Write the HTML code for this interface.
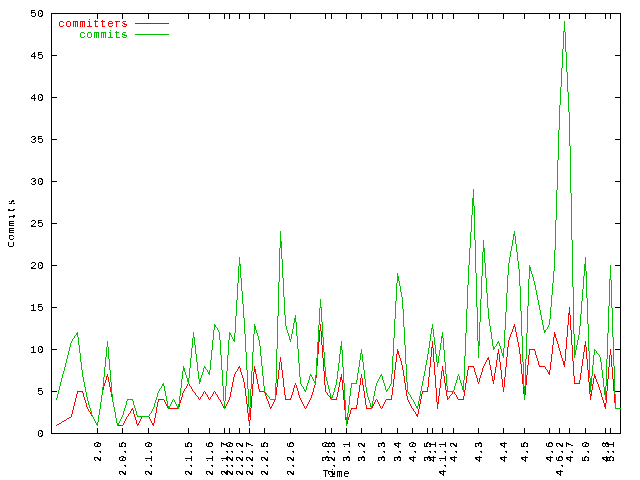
<!DOCTYPE html>
<html lang="en">
<head>
<meta charset="utf-8">
<title>Commits over time</title>
<style>
html,body{margin:0;padding:0;background:#fff;overflow:hidden}
body{width:640px;height:480px}
svg{display:block}
text{font-family:"Liberation Mono","DejaVu Sans Mono",monospace;font-size:10.6px;letter-spacing:0.64px;fill:#000}
.r{fill:#ff0000}
.g{fill:#00c000}
</style>
</head>
<body>
<svg width="640" height="480" viewBox="0 0 640 480">
<defs>
<filter id="px" filterUnits="userSpaceOnUse" x="0" y="0" width="640" height="480" color-interpolation-filters="sRGB">
<feComponentTransfer><feFuncA type="discrete" tableValues="0 0 1 1 1"/></feComponentTransfer>
</filter>
</defs>
<rect x="0" y="0" width="640" height="480" fill="#ffffff"/>
<g shape-rendering="crispEdges" fill="none" stroke-width="1">
<path stroke="#000000" d="M51.5 13.5H620.5V433.5H51.5Z M51 391.5H57 M615 391.5H621 M51 349.5H57 M615 349.5H621 M51 307.5H57 M615 307.5H621 M51 265.5H57 M615 265.5H621 M51 223.5H57 M615 223.5H621 M51 181.5H57 M615 181.5H621 M51 139.5H57 M615 139.5H621 M51 97.5H57 M615 97.5H621 M51 55.5H57 M615 55.5H621 M97.5 428V434 M97.5 13V19 M122.5 428V434 M122.5 13V19 M148.5 428V434 M148.5 13V19 M188.5 428V434 M188.5 13V19 M209.5 428V434 M209.5 13V19 M224.5 428V434 M224.5 13V19 M229.5 428V434 M229.5 13V19 M239.5 428V434 M239.5 13V19 M249.5 428V434 M249.5 13V19 M264.5 428V434 M264.5 13V19 M290.5 428V434 M290.5 13V19 M325.5 428V434 M325.5 13V19 M331.5 428V434 M331.5 13V19 M346.5 428V434 M346.5 13V19 M361.5 428V434 M361.5 13V19 M381.5 428V434 M381.5 13V19 M397.5 428V434 M397.5 13V19 M412.5 428V434 M412.5 13V19 M427.5 428V434 M427.5 13V19 M432.5 428V434 M432.5 13V19 M442.5 428V434 M442.5 13V19 M453.5 428V434 M453.5 13V19 M478.5 428V434 M478.5 13V19 M503.5 428V434 M503.5 13V19 M524.5 428V434 M524.5 13V19 M549.5 428V434 M549.5 13V19 M559.5 428V434 M559.5 13V19 M569.5 428V434 M569.5 13V19 M585.5 428V434 M585.5 13V19 M605.5 428V434 M605.5 13V19 M610.5 428V434 M610.5 13V19"/>
<path stroke="none" fill="#ff0000" d="M71 414h1v3h-1zM72 410h1v4h-1zM73 406h1v4h-1zM74 402h1v4h-1zM75 398h1v4h-1zM76 394h1v4h-1zM77 391h1v3h-1zM82 391h1v2h-1zM83 393h1v4h-1zM84 397h1v3h-1zM85 400h1v3h-1zM86 403h1v4h-1zM87 407h1v2h-1zM88 409h1v2h-1zM90 412h1v2h-1zM91 414h1v2h-1zM93 417h1v2h-1zM94 419h1v2h-1zM95 421h1v2h-1zM96 423h1v2h-1zM97 422h1v4h-1zM98 415h1v7h-1zM99 409h1v6h-1zM100 402h1v7h-1zM101 395h1v7h-1zM102 390h1v5h-1zM103 386h1v4h-1zM104 383h1v3h-1zM105 380h1v3h-1zM106 376h1v4h-1zM107 374h1v3h-1zM108 377h1v5h-1zM109 382h1v5h-1zM110 387h1v5h-1zM111 392h1v5h-1zM112 397h1v5h-1zM113 402h1v5h-1zM114 407h1v5h-1zM115 412h1v6h-1zM116 418h1v5h-1zM117 423h1v3h-1zM123 423h1v2h-1zM124 421h1v2h-1zM125 419h1v2h-1zM126 417h1v2h-1zM128 414h1v2h-1zM130 411h1v2h-1zM131 409h1v2h-1zM132 408h1v2h-1zM133 410h1v4h-1zM134 414h1v3h-1zM135 417h1v3h-1zM136 420h1v4h-1zM137 424h1v2h-1zM138 423h1v2h-1zM139 421h1v2h-1zM140 419h1v2h-1zM141 417h1v2h-1zM149 417h1v2h-1zM150 419h1v2h-1zM151 421h1v2h-1zM152 423h1v2h-1zM153 423h1v3h-1zM154 418h1v5h-1zM155 413h1v5h-1zM156 407h1v6h-1zM157 402h1v5h-1zM158 399h1v3h-1zM164 400h1v2h-1zM165 402h1v2h-1zM166 404h1v2h-1zM167 406h1v2h-1zM178 407h1v2h-1zM179 403h1v4h-1zM180 400h1v3h-1zM181 397h1v3h-1zM182 393h1v4h-1zM183 391h1v2h-1zM184 389h1v2h-1zM186 386h1v2h-1zM187 384h1v2h-1zM189 384h1v2h-1zM191 387h1v2h-1zM192 389h1v2h-1zM195 393h1v2h-1zM198 397h1v2h-1zM200 397h1v2h-1zM202 394h1v2h-1zM203 392h1v2h-1zM205 392h1v2h-1zM207 395h1v2h-1zM208 397h1v2h-1zM210 397h1v2h-1zM212 394h1v2h-1zM213 392h1v2h-1zM215 392h1v2h-1zM217 395h1v2h-1zM218 397h1v2h-1zM220 400h1v2h-1zM221 402h1v2h-1zM222 404h1v2h-1zM223 406h1v2h-1zM225 406h1v2h-1zM226 404h1v2h-1zM227 402h1v2h-1zM228 400h1v2h-1zM229 397h1v3h-1zM230 392h1v5h-1zM231 387h1v5h-1zM232 382h1v5h-1zM233 377h1v5h-1zM234 374h1v3h-1zM235 372h1v2h-1zM237 369h1v2h-1zM238 367h1v2h-1zM239 366h1v2h-1zM240 368h1v4h-1zM241 372h1v3h-1zM242 375h1v3h-1zM243 378h1v4h-1zM244 382h1v6h-1zM245 388h1v8h-1zM246 396h1v8h-1zM247 404h1v9h-1zM248 413h1v8h-1zM249 420h1v6h-1zM250 408h1v12h-1zM251 396h1v12h-1zM252 384h1v12h-1zM253 372h1v12h-1zM254 366h1v6h-1zM255 369h1v5h-1zM256 374h1v5h-1zM257 379h1v5h-1zM258 384h1v5h-1zM259 389h1v3h-1zM264 391h1v2h-1zM265 393h1v3h-1zM266 396h1v3h-1zM267 399h1v2h-1zM268 401h1v3h-1zM269 404h1v3h-1zM270 407h1v2h-1zM271 406h1v2h-1zM272 404h1v2h-1zM273 402h1v2h-1zM274 400h1v2h-1zM275 395h1v5h-1zM276 387h1v8h-1zM277 379h1v8h-1zM278 370h1v9h-1zM279 362h1v8h-1zM280 357h1v5h-1zM281 362h1v8h-1zM282 370h1v8h-1zM283 378h1v9h-1zM284 387h1v8h-1zM285 395h1v5h-1zM290 398h1v2h-1zM291 395h1v3h-1zM292 392h1v3h-1zM293 388h1v4h-1zM294 385h1v3h-1zM295 383h1v2h-1zM296 385h1v3h-1zM297 388h1v3h-1zM298 391h1v4h-1zM299 395h1v3h-1zM300 398h1v2h-1zM301 400h1v2h-1zM302 402h1v2h-1zM303 404h1v2h-1zM304 406h1v2h-1zM306 406h1v2h-1zM307 404h1v2h-1zM308 402h1v2h-1zM309 400h1v2h-1zM310 398h1v2h-1zM311 395h1v3h-1zM312 392h1v3h-1zM313 388h1v4h-1zM314 385h1v3h-1zM315 378h1v7h-1zM316 366h1v12h-1zM317 354h1v12h-1zM318 342h1v12h-1zM319 330h1v12h-1zM320 324h1v7h-1zM321 331h1v14h-1zM322 345h1v13h-1zM323 358h1v13h-1zM324 371h1v14h-1zM325 385h1v7h-1zM327 393h1v2h-1zM330 397h1v2h-1zM336 397h1v3h-1zM337 392h1v5h-1zM338 387h1v5h-1zM339 382h1v5h-1zM340 377h1v5h-1zM341 374h1v6h-1zM342 380h1v10h-1zM343 390h1v10h-1zM344 400h1v10h-1zM345 410h1v10h-1zM346 420h1v6h-1zM347 420h1v4h-1zM348 417h1v3h-1zM349 414h1v3h-1zM350 410h1v4h-1zM351 408h1v2h-1zM356 405h1v4h-1zM357 398h1v7h-1zM358 392h1v6h-1zM359 385h1v7h-1zM360 378h1v7h-1zM361 374h1v4h-1zM362 378h1v7h-1zM363 385h1v6h-1zM364 391h1v7h-1zM365 398h1v7h-1zM366 405h1v4h-1zM372 406h1v2h-1zM373 404h1v2h-1zM374 402h1v2h-1zM375 400h1v2h-1zM377 400h1v2h-1zM378 402h1v2h-1zM379 404h1v2h-1zM380 406h1v2h-1zM382 406h1v2h-1zM383 404h1v2h-1zM384 402h1v2h-1zM385 400h1v2h-1zM391 395h1v5h-1zM392 387h1v8h-1zM393 379h1v8h-1zM394 370h1v9h-1zM395 362h1v8h-1zM396 354h1v8h-1zM397 349h1v5h-1zM398 351h1v4h-1zM399 355h1v3h-1zM400 358h1v3h-1zM401 361h1v4h-1zM402 365h1v5h-1zM403 370h1v6h-1zM404 376h1v7h-1zM405 383h1v7h-1zM406 390h1v6h-1zM407 396h1v4h-1zM408 400h1v2h-1zM409 402h1v2h-1zM410 404h1v2h-1zM411 406h1v2h-1zM413 409h1v2h-1zM415 412h1v2h-1zM416 414h1v2h-1zM417 414h1v3h-1zM418 409h1v5h-1zM419 404h1v5h-1zM420 399h1v5h-1zM421 394h1v5h-1zM422 391h1v3h-1zM427 387h1v5h-1zM428 377h1v10h-1zM429 367h1v10h-1zM430 357h1v10h-1zM431 347h1v10h-1zM432 341h1v7h-1zM433 348h1v14h-1zM434 362h1v13h-1zM435 375h1v13h-1zM436 388h1v14h-1zM437 402h1v7h-1zM438 396h1v8h-1zM439 388h1v8h-1zM440 379h1v9h-1zM441 371h1v8h-1zM442 366h1v5h-1zM443 370h1v6h-1zM444 376h1v7h-1zM445 383h1v7h-1zM446 390h1v6h-1zM447 396h1v4h-1zM449 396h1v2h-1zM452 392h1v2h-1zM454 392h1v2h-1zM456 395h1v2h-1zM457 397h1v2h-1zM463 396h1v4h-1zM464 390h1v6h-1zM465 383h1v7h-1zM466 376h1v7h-1zM467 370h1v6h-1zM468 366h1v4h-1zM473 366h1v2h-1zM474 368h1v4h-1zM475 372h1v3h-1zM476 375h1v3h-1zM477 378h1v4h-1zM478 382h1v2h-1zM479 378h1v4h-1zM480 375h1v3h-1zM481 372h1v3h-1zM482 368h1v4h-1zM483 366h1v2h-1zM484 364h1v2h-1zM485 362h1v2h-1zM486 360h1v2h-1zM487 358h1v2h-1zM488 357h1v3h-1zM489 360h1v5h-1zM490 365h1v5h-1zM491 370h1v6h-1zM492 376h1v5h-1zM493 380h1v4h-1zM494 373h1v7h-1zM495 367h1v6h-1zM496 360h1v7h-1zM497 353h1v7h-1zM498 349h1v5h-1zM499 354h1v8h-1zM500 362h1v8h-1zM501 370h1v9h-1zM502 379h1v8h-1zM503 387h1v5h-1zM504 377h1v10h-1zM505 367h1v10h-1zM506 357h1v10h-1zM507 347h1v10h-1zM508 340h1v7h-1zM509 337h1v3h-1zM510 334h1v3h-1zM511 332h1v2h-1zM512 329h1v3h-1zM513 326h1v3h-1zM514 324h1v3h-1zM515 327h1v5h-1zM516 332h1v5h-1zM517 337h1v5h-1zM518 342h1v5h-1zM519 347h1v7h-1zM520 354h1v10h-1zM521 364h1v10h-1zM522 374h1v10h-1zM523 384h1v10h-1zM524 394h1v6h-1zM525 385h1v10h-1zM526 375h1v10h-1zM527 365h1v10h-1zM528 355h1v10h-1zM529 349h1v6h-1zM534 349h1v2h-1zM535 351h1v4h-1zM536 355h1v3h-1zM537 358h1v3h-1zM538 361h1v4h-1zM539 365h1v2h-1zM545 367h1v2h-1zM547 370h1v2h-1zM548 372h1v2h-1zM549 370h1v5h-1zM550 362h1v8h-1zM551 354h1v8h-1zM552 345h1v9h-1zM553 337h1v8h-1zM554 332h1v5h-1zM555 334h1v4h-1zM556 338h1v3h-1zM557 341h1v3h-1zM558 344h1v4h-1zM559 348h1v3h-1zM560 351h1v4h-1zM561 355h1v3h-1zM562 358h1v3h-1zM563 361h1v4h-1zM564 361h1v6h-1zM565 349h1v12h-1zM566 337h1v12h-1zM567 325h1v12h-1zM568 313h1v12h-1zM569 307h1v8h-1zM570 315h1v15h-1zM571 330h1v15h-1zM572 345h1v16h-1zM573 361h1v15h-1zM574 376h1v8h-1zM579 380h1v4h-1zM580 373h1v7h-1zM581 366h1v7h-1zM582 359h1v7h-1zM583 352h1v7h-1zM584 345h1v7h-1zM585 341h1v6h-1zM586 347h1v12h-1zM587 359h1v11h-1zM588 370h1v12h-1zM589 382h1v12h-1zM590 394h1v6h-1zM591 390h1v6h-1zM592 384h1v6h-1zM593 378h1v6h-1zM594 374h1v4h-1zM595 376h1v3h-1zM596 379h1v3h-1zM597 382h1v2h-1zM598 384h1v3h-1zM599 387h1v3h-1zM600 390h1v3h-1zM601 393h1v4h-1zM602 397h1v3h-1zM603 400h1v3h-1zM604 403h1v4h-1zM605 403h1v6h-1zM606 391h1v12h-1zM607 379h1v12h-1zM608 367h1v12h-1zM609 355h1v12h-1zM610 349h1v6h-1zM611 355h1v12h-1zM612 367h1v12h-1zM613 379h1v12h-1zM614 391h1v12h-1zM615 403h1v6h-1zM530 349h4v1h-4zM469 366h4v1h-4zM540 366h5v1h-5zM546 369h1v1h-1zM236 371h1v1h-1zM188 383h1v1h-1zM575 383h4v1h-4zM190 386h1v1h-1zM185 388h1v1h-1zM78 391h4v1h-4zM193 391h1v1h-1zM204 391h1v1h-1zM214 391h1v1h-1zM260 391h4v1h-4zM423 391h4v1h-4zM453 391h1v1h-1zM194 392h1v1h-1zM326 392h1v1h-1zM206 394h1v1h-1zM216 394h1v1h-1zM451 394h1v1h-1zM455 394h1v1h-1zM196 395h1v1h-1zM328 395h1v1h-1zM450 395h1v1h-1zM197 396h1v1h-1zM201 396h1v1h-1zM211 396h1v1h-1zM329 396h1v1h-1zM448 398h1v1h-1zM159 399h5v1h-5zM199 399h1v1h-1zM209 399h1v1h-1zM219 399h1v1h-1zM286 399h4v1h-4zM331 399h5v1h-5zM376 399h1v1h-1zM386 399h5v1h-5zM458 399h5v1h-5zM168 408h10v1h-10zM224 408h1v1h-1zM305 408h1v1h-1zM352 408h4v1h-4zM367 408h5v1h-5zM381 408h1v1h-1zM412 408h1v1h-1zM616 408h5v1h-5zM89 411h1v1h-1zM414 411h1v1h-1zM129 413h1v1h-1zM92 416h1v1h-1zM127 416h1v1h-1zM142 416h7v1h-7zM69 417h2v1h-2zM67 418h2v1h-2zM66 419h1v1h-1zM64 420h2v1h-2zM62 421h2v1h-2zM61 422h1v1h-1zM59 423h2v1h-2zM57 424h2v1h-2zM56 425h1v1h-1zM118 425h5v1h-5z"/>
<path stroke="none" fill="#00c000" d="M56 398h1v2h-1zM57 394h1v4h-1zM58 390h1v4h-1zM59 386h1v4h-1zM60 382h1v4h-1zM61 378h1v4h-1zM62 374h1v4h-1zM63 371h1v3h-1zM64 367h1v4h-1zM65 363h1v4h-1zM66 359h1v4h-1zM67 355h1v4h-1zM68 351h1v4h-1zM69 347h1v4h-1zM70 343h1v4h-1zM71 341h1v2h-1zM72 339h1v2h-1zM74 336h1v2h-1zM76 333h1v2h-1zM77 332h1v5h-1zM78 337h1v8h-1zM79 345h1v8h-1zM80 353h1v9h-1zM81 362h1v8h-1zM82 370h1v7h-1zM83 377h1v5h-1zM84 382h1v5h-1zM85 387h1v5h-1zM86 392h1v5h-1zM87 397h1v4h-1zM88 401h1v4h-1zM89 405h1v3h-1zM90 408h1v3h-1zM91 411h1v4h-1zM92 415h1v2h-1zM93 417h1v2h-1zM94 419h1v2h-1zM95 421h1v2h-1zM96 423h1v2h-1zM97 422h1v4h-1zM98 415h1v7h-1zM99 409h1v6h-1zM100 402h1v7h-1zM101 395h1v7h-1zM102 387h1v8h-1zM103 377h1v10h-1zM104 367h1v10h-1zM105 357h1v10h-1zM106 347h1v10h-1zM107 341h1v6h-1zM108 347h1v12h-1zM109 359h1v11h-1zM110 370h1v12h-1zM111 382h1v12h-1zM112 394h1v8h-1zM113 402h1v5h-1zM114 407h1v5h-1zM115 412h1v6h-1zM116 418h1v5h-1zM117 423h1v3h-1zM118 423h1v2h-1zM119 421h1v2h-1zM120 419h1v2h-1zM121 417h1v2h-1zM122 415h1v2h-1zM123 411h1v4h-1zM124 408h1v3h-1zM125 405h1v3h-1zM126 401h1v4h-1zM127 399h1v2h-1zM132 399h1v2h-1zM133 401h1v4h-1zM134 405h1v3h-1zM135 408h1v3h-1zM136 411h1v4h-1zM137 415h1v2h-1zM149 414h1v2h-1zM151 411h1v2h-1zM152 409h1v2h-1zM153 407h1v2h-1zM154 403h1v4h-1zM155 400h1v3h-1zM156 397h1v3h-1zM157 393h1v4h-1zM158 391h1v2h-1zM159 389h1v2h-1zM161 386h1v2h-1zM162 384h1v2h-1zM163 383h1v3h-1zM164 386h1v5h-1zM165 391h1v5h-1zM166 396h1v5h-1zM167 401h1v5h-1zM168 406h1v3h-1zM169 406h1v2h-1zM170 404h1v2h-1zM171 402h1v2h-1zM172 400h1v2h-1zM174 400h1v2h-1zM175 402h1v2h-1zM176 404h1v2h-1zM177 406h1v2h-1zM178 404h1v5h-1zM179 396h1v8h-1zM180 388h1v8h-1zM181 379h1v9h-1zM182 371h1v8h-1zM183 366h1v5h-1zM184 368h1v4h-1zM185 372h1v3h-1zM186 375h1v3h-1zM187 378h1v4h-1zM188 378h1v6h-1zM189 368h1v10h-1zM190 358h1v10h-1zM191 348h1v10h-1zM192 338h1v10h-1zM193 332h1v6h-1zM194 337h1v8h-1zM195 345h1v9h-1zM196 354h1v8h-1zM197 362h1v9h-1zM198 371h1v8h-1zM199 379h1v5h-1zM200 378h1v4h-1zM201 375h1v3h-1zM202 372h1v3h-1zM203 368h1v4h-1zM204 366h1v2h-1zM205 367h1v2h-1zM207 370h1v2h-1zM208 372h1v2h-1zM209 370h1v5h-1zM210 360h1v10h-1zM211 350h1v10h-1zM212 340h1v10h-1zM213 330h1v10h-1zM214 324h1v6h-1zM215 325h1v2h-1zM217 328h1v2h-1zM218 330h1v2h-1zM219 332h1v8h-1zM220 340h1v15h-1zM221 355h1v15h-1zM222 370h1v16h-1zM223 386h1v15h-1zM224 401h1v8h-1zM225 386h1v15h-1zM226 371h1v15h-1zM227 355h1v16h-1zM228 340h1v15h-1zM229 332h1v8h-1zM230 333h1v2h-1zM231 335h1v2h-1zM232 337h1v2h-1zM233 339h1v2h-1zM234 333h1v9h-1zM235 316h1v17h-1zM236 300h1v16h-1zM237 283h1v17h-1zM238 266h1v17h-1zM239 257h1v9h-1zM240 264h1v14h-1zM241 278h1v13h-1zM242 291h1v13h-1zM243 304h1v14h-1zM244 318h1v16h-1zM245 334h1v18h-1zM246 352h1v18h-1zM247 370h1v19h-1zM248 389h1v18h-1zM249 407h1v10h-1zM250 389h1v18h-1zM251 371h1v18h-1zM252 352h1v19h-1zM253 334h1v18h-1zM254 324h1v10h-1zM255 326h1v4h-1zM256 330h1v3h-1zM257 333h1v3h-1zM258 336h1v4h-1zM259 340h1v6h-1zM260 346h1v10h-1zM261 356h1v10h-1zM262 366h1v10h-1zM263 376h1v10h-1zM264 386h1v6h-1zM266 393h1v2h-1zM269 397h1v2h-1zM275 383h1v17h-1zM276 349h1v34h-1zM277 316h1v33h-1zM278 282h1v34h-1zM279 248h1v34h-1zM280 231h1v17h-1zM281 241h1v18h-1zM282 259h1v19h-1zM283 278h1v19h-1zM284 297h1v18h-1zM285 315h1v11h-1zM286 326h1v4h-1zM287 330h1v3h-1zM288 333h1v3h-1zM289 336h1v4h-1zM290 339h1v3h-1zM291 334h1v5h-1zM292 329h1v5h-1zM293 323h1v6h-1zM294 318h1v5h-1zM295 315h1v7h-1zM296 322h1v14h-1zM297 336h1v13h-1zM298 349h1v14h-1zM299 363h1v14h-1zM300 377h1v7h-1zM301 384h1v2h-1zM303 387h1v2h-1zM304 389h1v2h-1zM305 390h1v2h-1zM306 386h1v4h-1zM307 383h1v3h-1zM308 380h1v3h-1zM309 376h1v4h-1zM310 374h1v2h-1zM311 375h1v2h-1zM312 377h1v2h-1zM313 379h1v2h-1zM314 381h1v2h-1zM315 375h1v9h-1zM316 358h1v17h-1zM317 342h1v16h-1zM318 325h1v17h-1zM319 308h1v17h-1zM320 299h1v9h-1zM321 307h1v15h-1zM322 322h1v15h-1zM323 337h1v15h-1zM324 352h1v15h-1zM325 367h1v10h-1zM326 377h1v4h-1zM327 381h1v4h-1zM328 385h1v4h-1zM329 389h1v4h-1zM330 393h1v4h-1zM331 397h1v3h-1zM332 395h1v3h-1zM333 392h1v3h-1zM334 388h1v4h-1zM335 385h1v3h-1zM336 379h1v6h-1zM337 371h1v8h-1zM338 363h1v8h-1zM339 354h1v9h-1zM340 346h1v8h-1zM341 341h1v9h-1zM342 350h1v17h-1zM343 367h1v16h-1zM344 383h1v17h-1zM345 400h1v17h-1zM346 417h1v9h-1zM347 413h1v8h-1zM348 405h1v8h-1zM349 396h1v9h-1zM350 388h1v8h-1zM351 383h1v5h-1zM356 380h1v4h-1zM357 373h1v7h-1zM358 367h1v6h-1zM359 360h1v7h-1zM360 353h1v7h-1zM361 349h1v5h-1zM362 354h1v8h-1zM363 362h1v8h-1zM364 370h1v9h-1zM365 379h1v8h-1zM366 387h1v6h-1zM367 393h1v4h-1zM368 397h1v3h-1zM369 400h1v3h-1zM370 403h1v4h-1zM371 406h1v3h-1zM372 401h1v5h-1zM373 396h1v5h-1zM374 391h1v5h-1zM375 386h1v5h-1zM376 383h1v3h-1zM377 381h1v2h-1zM378 379h1v2h-1zM379 377h1v2h-1zM380 375h1v2h-1zM381 374h1v2h-1zM382 376h1v4h-1zM383 380h1v3h-1zM384 383h1v3h-1zM385 386h1v4h-1zM386 390h1v2h-1zM387 389h1v2h-1zM389 386h1v2h-1zM390 384h1v2h-1zM391 374h1v10h-1zM392 356h1v18h-1zM393 338h1v18h-1zM394 319h1v19h-1zM395 301h1v18h-1zM396 283h1v18h-1zM397 273h1v10h-1zM398 276h1v5h-1zM399 281h1v5h-1zM400 286h1v6h-1zM401 292h1v5h-1zM402 297h1v12h-1zM403 309h1v18h-1zM404 327h1v18h-1zM405 345h1v19h-1zM406 364h1v18h-1zM407 382h1v10h-1zM408 392h1v2h-1zM410 395h1v2h-1zM411 397h1v2h-1zM413 400h1v2h-1zM414 402h1v2h-1zM415 404h1v2h-1zM416 406h1v2h-1zM417 406h1v3h-1zM418 401h1v5h-1zM419 396h1v5h-1zM420 391h1v5h-1zM421 386h1v5h-1zM422 381h1v5h-1zM423 376h1v5h-1zM424 371h1v5h-1zM425 365h1v6h-1zM426 360h1v5h-1zM427 354h1v6h-1zM428 348h1v6h-1zM429 341h1v7h-1zM430 334h1v7h-1zM431 328h1v6h-1zM432 324h1v5h-1zM433 329h1v8h-1zM434 337h1v8h-1zM435 345h1v9h-1zM436 354h1v8h-1zM437 362h1v5h-1zM438 356h1v7h-1zM439 350h1v6h-1zM440 343h1v7h-1zM441 336h1v7h-1zM442 332h1v6h-1zM443 338h1v12h-1zM444 350h1v12h-1zM445 362h1v12h-1zM446 374h1v12h-1zM447 386h1v6h-1zM453 390h1v2h-1zM454 386h1v4h-1zM455 383h1v3h-1zM456 380h1v3h-1zM457 376h1v4h-1zM458 374h1v2h-1zM459 376h1v4h-1zM460 380h1v3h-1zM461 383h1v3h-1zM462 386h1v4h-1zM463 380h1v12h-1zM464 356h1v24h-1zM465 333h1v23h-1zM466 309h1v24h-1zM467 285h1v24h-1zM468 265h1v20h-1zM469 248h1v17h-1zM470 232h1v16h-1zM471 215h1v17h-1zM472 198h1v17h-1zM473 189h1v17h-1zM474 206h1v34h-1zM475 240h1v33h-1zM476 273h1v34h-1zM477 307h1v34h-1zM478 341h1v17h-1zM479 322h1v24h-1zM480 299h1v23h-1zM481 276h1v23h-1zM482 252h1v24h-1zM483 240h1v12h-1zM484 248h1v15h-1zM485 263h1v15h-1zM486 278h1v15h-1zM487 293h1v15h-1zM488 308h1v11h-1zM489 319h1v7h-1zM490 326h1v6h-1zM491 332h1v7h-1zM492 339h1v7h-1zM493 346h1v4h-1zM494 347h1v2h-1zM496 344h1v2h-1zM497 342h1v2h-1zM498 341h1v2h-1zM499 343h1v3h-1zM500 346h1v3h-1zM501 349h1v4h-1zM502 353h1v3h-1zM503 348h1v10h-1zM504 330h1v18h-1zM505 312h1v18h-1zM506 293h1v19h-1zM507 275h1v18h-1zM508 263h1v12h-1zM509 257h1v6h-1zM510 251h1v6h-1zM511 246h1v5h-1zM512 240h1v6h-1zM513 234h1v6h-1zM514 231h1v5h-1zM515 236h1v8h-1zM516 244h1v8h-1zM517 252h1v9h-1zM518 261h1v8h-1zM519 269h1v17h-1zM520 286h1v25h-1zM521 311h1v25h-1zM522 336h1v26h-1zM523 362h1v25h-1zM524 386h1v14h-1zM525 359h1v27h-1zM526 333h1v26h-1zM527 306h1v27h-1zM528 279h1v27h-1zM529 265h1v14h-1zM530 267h1v4h-1zM531 271h1v3h-1zM532 274h1v3h-1zM533 277h1v4h-1zM534 281h1v4h-1zM535 285h1v5h-1zM536 290h1v5h-1zM537 295h1v5h-1zM538 300h1v5h-1zM539 305h1v5h-1zM540 310h1v5h-1zM541 315h1v5h-1zM542 320h1v5h-1zM543 325h1v5h-1zM544 330h1v3h-1zM545 330h1v2h-1zM547 327h1v2h-1zM548 325h1v2h-1zM549 319h1v6h-1zM550 307h1v12h-1zM551 295h1v12h-1zM552 283h1v12h-1zM553 271h1v12h-1zM554 250h1v21h-1zM555 220h1v30h-1zM556 190h1v30h-1zM557 160h1v30h-1zM558 130h1v30h-1zM559 105h1v25h-1zM560 87h1v18h-1zM561 68h1v19h-1zM562 49h1v19h-1zM563 31h1v18h-1zM564 21h1v11h-1zM565 32h1v20h-1zM566 52h1v20h-1zM567 72h1v20h-1zM568 92h1v20h-1zM569 112h1v34h-1zM570 146h1v47h-1zM571 193h1v47h-1zM572 240h1v47h-1zM573 287h1v47h-1zM574 334h1v24h-1zM575 350h1v5h-1zM576 345h1v5h-1zM577 340h1v5h-1zM578 335h1v5h-1zM579 326h1v9h-1zM580 314h1v12h-1zM581 301h1v13h-1zM582 289h1v12h-1zM583 276h1v13h-1zM584 264h1v12h-1zM585 257h1v14h-1zM586 271h1v27h-1zM587 298h1v26h-1zM588 324h1v27h-1zM589 351h1v27h-1zM590 378h1v14h-1zM591 376h1v10h-1zM592 365h1v11h-1zM593 355h1v10h-1zM594 349h1v6h-1zM596 351h1v2h-1zM599 355h1v2h-1zM600 357h1v5h-1zM601 362h1v8h-1zM602 370h1v8h-1zM603 378h1v9h-1zM604 387h1v8h-1zM605 386h1v14h-1zM606 359h1v27h-1zM607 333h1v26h-1zM608 306h1v27h-1zM609 279h1v27h-1zM610 265h1v15h-1zM611 280h1v28h-1zM612 308h1v29h-1zM613 337h1v29h-1zM614 366h1v28h-1zM615 394h1v15h-1zM216 327h1v1h-1zM546 329h1v1h-1zM75 335h1v1h-1zM73 338h1v1h-1zM495 346h1v1h-1zM595 350h1v1h-1zM597 353h1v1h-1zM598 354h1v1h-1zM206 369h1v1h-1zM352 383h4v1h-4zM302 386h1v1h-1zM160 388h1v1h-1zM388 388h1v1h-1zM448 391h5v1h-5zM265 392h1v1h-1zM409 394h1v1h-1zM267 395h1v1h-1zM268 396h1v1h-1zM128 399h4v1h-4zM173 399h1v1h-1zM270 399h5v1h-5zM412 399h1v1h-1zM616 408h5v1h-5zM150 413h1v1h-1zM138 416h11v1h-11z"/>
<path stroke="#ff0000" d="M135 23.5H169"/>
<path stroke="#00c000" d="M135 34.5H169"/>
</g>
<g filter="url(#px)">
<g text-anchor="end">
<text x="44.2" y="437.0">0</text>
<text x="44.2" y="395.0">5</text>
<text x="44.2" y="353.0">10</text>
<text x="44.2" y="311.0">15</text>
<text x="44.2" y="269.0">20</text>
<text x="44.2" y="227.0">25</text>
<text x="44.2" y="185.0">30</text>
<text x="44.2" y="143.0">35</text>
<text x="44.2" y="101.0">40</text>
<text x="44.2" y="59.0">45</text>
<text x="44.2" y="17.0">50</text>
<text class="r" x="128.25" y="27">committers</text>
<text class="g" x="128.25" y="38">commits</text>
<text transform="translate(101.0 441) rotate(-90)">2.0</text>
<text transform="translate(126.0 441) rotate(-90)">2.0.5</text>
<text transform="translate(152.0 441) rotate(-90)">2.1.0</text>
<text transform="translate(192.0 441) rotate(-90)">2.1.5</text>
<text transform="translate(213.0 441) rotate(-90)">2.1.6</text>
<text transform="translate(228.0 441) rotate(-90)">2.1.7</text>
<text transform="translate(233.0 441) rotate(-90)">2.2.0</text>
<text transform="translate(243.0 441) rotate(-90)">2.2.2</text>
<text transform="translate(253.0 441) rotate(-90)">2.2.7</text>
<text transform="translate(268.0 441) rotate(-90)">2.2.5</text>
<text transform="translate(294.0 441) rotate(-90)">2.2.6</text>
<text transform="translate(329.0 441) rotate(-90)">3.0</text>
<text transform="translate(335.0 441) rotate(-90)">2.2.8</text>
<text transform="translate(350.0 441) rotate(-90)">3.1</text>
<text transform="translate(365.0 441) rotate(-90)">3.2</text>
<text transform="translate(385.0 441) rotate(-90)">3.3</text>
<text transform="translate(401.0 441) rotate(-90)">3.4</text>
<text transform="translate(416.0 441) rotate(-90)">4.0</text>
<text transform="translate(431.0 441) rotate(-90)">3.5</text>
<text transform="translate(436.0 441) rotate(-90)">4.1</text>
<text transform="translate(446.0 441) rotate(-90)">4.1.1</text>
<text transform="translate(457.0 441) rotate(-90)">4.2</text>
<text transform="translate(482.0 441) rotate(-90)">4.3</text>
<text transform="translate(507.0 441) rotate(-90)">4.4</text>
<text transform="translate(528.0 441) rotate(-90)">4.5</text>
<text transform="translate(553.0 441) rotate(-90)">4.6</text>
<text transform="translate(563.0 441) rotate(-90)">4.6.2</text>
<text transform="translate(573.0 441) rotate(-90)">4.7</text>
<text transform="translate(589.0 441) rotate(-90)">5.0</text>
<text transform="translate(609.0 441) rotate(-90)">4.8</text>
<text transform="translate(614.0 441) rotate(-90)">5.1</text>
</g>
<text text-anchor="middle" transform="translate(14.5 223.25) rotate(-90)">Commits</text>
<text x="322.25" y="476.7">Time</text>
</g>
</svg>
</body>
</html>
